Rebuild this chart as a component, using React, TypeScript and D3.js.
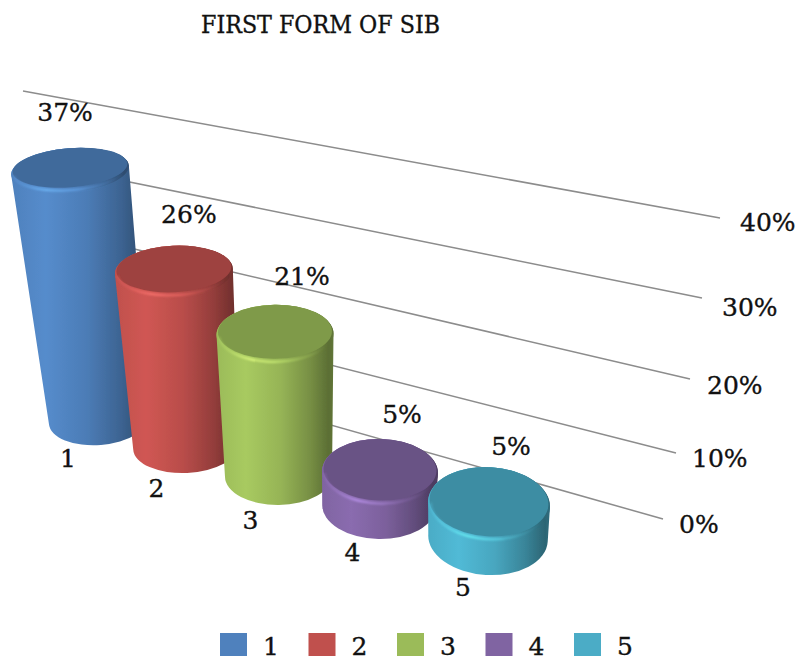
import React from "react";
import * as d3 from "d3";

const title = "FIRST FORM OF SIB";
const categories = ["1", "2", "3", "4", "5"];
const values = [37, 26, 21, 5, 5];
const valueLabels = ["37%", "26%", "21%", "5%", "5%"];
const colors = ["#4f81bd", "#c0504d", "#9bbb59", "#8064a2", "#4bacc6"];
const gridValues = [0, 10, 20, 30, 40];
const gridLabels = ["0%", "10%", "20%", "30%", "40%"];

const FONT = "'DejaVu Serif', serif";
const idx = [0, 1, 2, 3, 4];

// perspective projection scales
const baseX = d3.scaleLinear().domain(idx).range([99, 186, 278.5, 379, 488]);
const baseY = d3.scaleLinear().domain(idx).range([420, 447, 476, 506, 538]);
const height = d3.scaleLinear().domain([0, 40]).range([0, 270]);
const topRx = d3.scaleLinear().domain(idx).range([59, 59, 58.5, 58, 61]);
const topRy = d3.scaleLinear().domain([0, 4]).range([22, 37]);
const baseRy = d3.scaleLinear().domain(idx).range([25, 26, 29, 33, 37]);
const tilt = d3.scaleLinear().domain([99, 488]).range([-4.5, 3.5]);
const lean = d3.scaleLinear().domain([99, 186, 278, 379, 488]).range([-0.116, -0.069, -0.025, 0.03, 0.03]);
const taper = d3.scaleLinear().domain([0, 40]).range([0, 9.5]);
const catLabelX = d3.scaleLinear().domain([0, 4]).range([-31, -25]);
const catLabelY = d3.scaleLinear().domain([0, 4]).range([38, 49]);
const valueLabelDx = d3.scaleOrdinal<number, number>().domain(idx).range([-5, 15, 27, 22, 22]);

const gridEndX = d3.scaleLinear().domain(gridValues).range([663, 676, 690, 702, 720]);
const gridEndY = d3.scaleLinear().domain(gridValues).range([519, 453, 379, 298, 218]);
const gridStartX = d3.scaleLinear().domain(gridValues).range([200, 170, 130, 90, 23]);
const gridStartY = d3.scaleLinear().domain(gridValues).range([388, 324, 248, 174, 91]);
const gridLabelDx = d3.scaleLinear().domain(gridValues).range([16, 16, 17, 20, 20]);
const gridLabelDy = d3.scaleLinear().domain(gridValues).range([5, 5, 6, 9, 4]);

const legendX = d3.scaleLinear().domain([0, 4]).range([220, 574]);

function cylinder(i: number) {
  const bx = baseX(i);
  const by = baseY(i);
  const h = height(values[i]);
  const tx = bx + h * lean(bx);
  const ty = by - h;
  const rxT = topRx(i);
  const ryT = topRy(i);
  const rxB = rxT - taper(values[i]);
  const ryB = baseRy(i);
  const rot = tilt(bx);
  const a = (rot * Math.PI) / 180;
  const c = Math.cos(a);
  const s = Math.sin(a);
  const body = [
    `M${tx - rxT * c},${ty - rxT * s}`,
    `L${bx - rxB * c},${by - rxB * s}`,
    `A${rxB},${ryB} ${rot} 0 0 ${bx + rxB * c},${by + rxB * s}`,
    `L${tx + rxT * c},${ty + rxT * s}`,
    `A${rxT},${ryT} ${rot} 0 0 ${tx - rxT * c},${ty - rxT * s}`,
    "Z",
  ].join(" ");
  // highlight arc along the front of the top face
  const hr = rxT - 2.5;
  const hy = ryT - 2;
  const p = (t: number) => {
    const ex = hr * Math.cos(t);
    const ey = hy * Math.sin(t);
    return [tx + ex * c - ey * s, ty + ex * s + ey * c];
  };
  const [sx, sy] = p(Math.PI * 0.98);
  const [ex, ey] = p(Math.PI * 0.12);
  const arc = `M${sx},${sy} A${hr},${hy} ${rot} 0 0 ${ex},${ey}`;
  return { bx, by, tx, ty, rxT, ryT, rot, body, arc };
}

export default function App() {
  const cyls = categories.map((_, i) => cylinder(i));
  const heavy = { stroke: "#111", strokeWidth: 0.35 };
  return (
    <svg
      width={797}
      height={656}
      viewBox="0 0 797 656"
      style={{ position: "absolute", left: 0, top: 0, background: "#fff", display: "block" }}
      fontFamily={FONT}
      fill="#111"
    >
      <defs>
        <filter id="soft" x="-10%" y="-10%" width="120%" height="120%">
          <feGaussianBlur stdDeviation="0.6" />
        </filter>
        <filter id="glow" x="-20%" y="-40%" width="140%" height="180%">
          <feGaussianBlur stdDeviation="0.8" />
        </filter>
        {colors.map((col, i) => {
          const base = d3.color(col)!;
          return (
            <React.Fragment key={i}>
              <linearGradient id={`body${i}`} x1="0" x2="1" y1="0" y2="0">
                <stop offset="0%" stopColor={base.formatHex()} />
                <stop offset="25%" stopColor={base.brighter(0.22).formatHex()} />
                <stop offset="55%" stopColor={base.darker(0.1).formatHex()} />
                <stop offset="80%" stopColor={base.darker(0.75).formatHex()} />
                <stop offset="96%" stopColor={base.darker(1.5).formatHex()} />
                <stop offset="100%" stopColor={base.darker(1.3).formatHex()} />
              </linearGradient>
              <linearGradient id={`rim${i}`} x1="0" x2="1" y1="0" y2="0">
                <stop offset="0%" stopColor={base.brighter(0.4).formatHex()} stopOpacity={0.5} />
                <stop offset="30%" stopColor={base.brighter(1.1).formatHex()} stopOpacity={1} />
                <stop offset="60%" stopColor={base.brighter(0.9).formatHex()} stopOpacity={0.7} />
                <stop offset="100%" stopColor={base.brighter(0.2).formatHex()} stopOpacity={0} />
              </linearGradient>
            </React.Fragment>
          );
        })}
      </defs>

      <text x={320.5} y={33} textAnchor="middle" fontSize={24} textLength={239} lengthAdjust="spacingAndGlyphs" {...heavy}>
        {title}
      </text>

      {gridValues.map((v) => (
        <line
          key={v}
          x1={gridStartX(v)}
          y1={gridStartY(v)}
          x2={gridEndX(v)}
          y2={gridEndY(v)}
          stroke="#8c8c8c"
          strokeWidth={1.5}
        />
      ))}
      {gridValues.map((v, i) => (
        <text key={v} x={gridEndX(v) + gridLabelDx(v)} y={gridEndY(v) + gridLabelDy(v) + 9} fontSize={25} {...heavy}>
          {gridLabels[i]}
        </text>
      ))}

      {cyls.map((g, i) => {
        const base = d3.color(colors[i])!;
        return (
          <g key={i} filter="url(#soft)">
            <path d={g.body} fill={`url(#body${i})`} />
            <ellipse
              cx={g.tx}
              cy={g.ty}
              rx={g.rxT}
              ry={g.ryT}
              fill={`url(#body${i})`}
              transform={`rotate(${g.rot} ${g.tx} ${g.ty})`}
            />
            <ellipse
              cx={g.tx}
              cy={g.ty - 2.5}
              rx={g.rxT - 1.5}
              ry={g.ryT - 2.5}
              fill={base.darker(0.55).formatHex()}
              transform={`rotate(${g.rot} ${g.tx} ${g.ty - 2.5})`}
            />
            <path d={g.arc} fill="none" stroke={`url(#rim${i})`} strokeWidth={1.8} filter="url(#glow)" />
          </g>
        );
      })}

      {cyls.map((g, i) => (
        <text key={i} x={g.tx + valueLabelDx(i)} y={g.ty - 58 + 9} textAnchor="middle" fontSize={25} {...heavy}>
          {valueLabels[i]}
        </text>
      ))}
      {cyls.map((g, i) => (
        <text key={i} x={g.bx + catLabelX(i)} y={g.by + catLabelY(i) + 9} textAnchor="middle" fontSize={25} {...heavy}>
          {categories[i]}
        </text>
      ))}

      {categories.map((cat, i) => (
        <g key={cat}>
          <rect x={legendX(i)} y={633} width={27} height={23} fill={colors[i]} />
          <text x={legendX(i) + 51} y={654.5} fontSize={25} textAnchor="middle" {...heavy}>
            {cat}
          </text>
        </g>
      ))}
    </svg>
  );
}
